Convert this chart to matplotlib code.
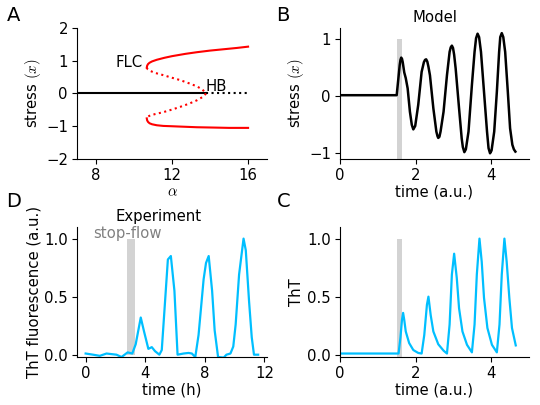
import matplotlib
matplotlib.use("Agg")
import matplotlib.pyplot as plt

plt.rcParams['font.family'] = ['DejaVu Sans']
plt.rcParams['mathtext.fontset'] = 'cm'
plt.rcParams['font.size'] = 10.7

# ---------------- Panel A: bifurcation diagram ----------------
alpha_ss_stable = [7.0, 13.79]
x_ss_stable = [0.0, 0.0]
alpha_ss_unstable = [13.79, 16.0]
x_ss_unstable = [0.0, 0.0]

alpha_up_stable = [10.67, 10.69, 10.74, 10.82, 10.95, 11.2, 11.6, 12.0, 12.7, 13.3, 14.0, 14.7, 15.4, 16.0]
x_up_stable = [0.79, 0.85, 0.90, 0.94, 0.98, 1.03, 1.09, 1.14, 1.21, 1.26, 1.31, 1.35, 1.39, 1.43]
alpha_up_unstable = [10.67, 10.72, 10.85, 11.1, 11.54, 12.0, 12.42, 12.9, 13.3, 13.6, 13.79]
x_up_unstable = [0.79, 0.74, 0.69, 0.63, 0.56, 0.48, 0.41, 0.31, 0.22, 0.12, 0.0]
alpha_lo_unstable = [13.79, 13.6, 13.3, 12.9, 12.42, 12.0, 11.54, 11.1, 10.85, 10.72, 10.67]
x_lo_unstable = [0.0, -0.11, -0.21, -0.31, -0.41, -0.49, -0.57, -0.63, -0.67, -0.71, -0.76]
alpha_lo_stable = [10.67, 10.69, 10.74, 10.82, 10.95, 11.2, 11.54, 12.0, 12.42, 13.3, 14.18, 15.0, 16.0]
x_lo_stable = [-0.76, -0.82, -0.87, -0.91, -0.94, -0.97, -0.99, -1.00, -1.01, -1.03, -1.04, -1.05, -1.05]

# ---------------- Panel B: model stress ----------------
t_B = [0, 1.50, 1.55, 1.58, 1.60, 1.62, 1.64, 1.66, 1.70, 1.74, 1.79, 1.85, 1.90, 1.94, 1.99,
       2.07, 2.16, 2.22, 2.25, 2.28, 2.31, 2.34, 2.38, 2.47, 2.55, 2.58, 2.60, 2.63, 2.66,
       2.74, 2.83, 2.90, 2.93, 2.96, 2.99, 3.02, 3.06, 3.15, 3.22, 3.25, 3.29, 3.33, 3.40,
       3.49, 3.56, 3.60, 3.64, 3.68, 3.73, 3.81, 3.89, 3.93, 3.97, 4.01, 4.08, 4.15, 4.21,
       4.24, 4.28, 4.32, 4.37, 4.44, 4.50, 4.56, 4.60, 4.64]
x_B = [0.02, 0.02, 0.35, 0.55, 0.64, 0.68, 0.66, 0.60, 0.42, 0.32, 0.14, -0.27, -0.50, -0.58, -0.52,
       -0.15, 0.43, 0.60, 0.64, 0.65, 0.61, 0.52, 0.37, -0.21, -0.62, -0.70, -0.73, -0.71, -0.62,
       -0.27, 0.37, 0.78, 0.86, 0.89, 0.85, 0.73, 0.49, -0.21, -0.74, -0.89, -0.98, -0.93, -0.62,
       0.20, 0.78, 1.02, 1.10, 1.04, 0.78, 0.08, -0.62, -0.91, -1.00, -0.95, -0.62, 0.08, 0.78,
       1.04, 1.11, 1.04, 0.78, 0.08, -0.56, -0.85, -0.93, -0.97]

# ---------------- Panel C: model ThT ----------------
t_C = [0, 1.55, 1.60, 1.64, 1.67, 1.70, 1.74, 1.83, 1.94, 2.07, 2.16, 2.23, 2.30, 2.34,
       2.40, 2.47, 2.60, 2.74, 2.83, 2.90, 2.96, 3.02, 3.09, 3.15, 3.24, 3.36, 3.49,
       3.56, 3.62, 3.69, 3.75, 3.81, 3.90, 4.02, 4.15, 4.22, 4.28, 4.35, 4.41, 4.48,
       4.55, 4.65]
y_C = [0.01, 0.01, 0.15, 0.30, 0.36, 0.30, 0.20, 0.10, 0.04, 0.015, 0.01, 0.17, 0.43, 0.50,
       0.34, 0.20, 0.09, 0.035, 0.01, 0.26, 0.69, 0.87, 0.66, 0.40, 0.20, 0.085, 0.02,
       0.26, 0.69, 1.0, 0.80, 0.49, 0.23, 0.085, 0.02, 0.26, 0.69, 1.0, 0.80, 0.49,
       0.23, 0.08]

# ---------------- Panel D: experiment ----------------
t_D = [0, 0.5, 0.95, 1.40, 1.73, 2.07, 2.41, 2.82, 3.13, 3.36, 3.70, 3.92, 4.21, 4.44,
       4.66, 4.95, 5.11, 5.30, 5.52, 5.72, 5.96, 6.17, 6.57, 6.91, 7.13, 7.36, 7.58,
       7.92, 8.08, 8.26, 8.49, 8.66, 8.89, 9.27, 9.45, 9.72, 9.91, 10.07, 10.30, 10.60,
       10.75, 10.97, 11.15, 11.30, 11.58]
y_D = [0.01, 0.0, -0.01, 0.01, 0.005, 0.0, -0.02, 0.02, 0.01, 0.09, 0.32, 0.20, 0.05, 0.065,
       0.03, 0.0, 0.04, 0.40, 0.82, 0.85, 0.55, 0.0, 0.01, 0.015, 0.01, -0.02, 0.17,
       0.65, 0.79, 0.85, 0.55, 0.21, -0.02, -0.025, 0.0, 0.01, 0.07, 0.26, 0.69, 1.0,
       0.90, 0.46, 0.15, 0.0, 0.0]

stopflow_model = [1.50, 1.65]
stopflow_exp = [2.77, 3.31]

blue = '#00bfff'
grey = '#d3d3d3'

fig = plt.figure(figsize=(5.4, 4.05), dpi=100)
axA = fig.add_axes([0.1426, 0.6074, 0.352, 0.3235])
axB = fig.add_axes([0.6296, 0.6074, 0.350, 0.3235])
axD = fig.add_axes([0.1426, 0.1185, 0.352, 0.321])
axC = fig.add_axes([0.6296, 0.1185, 0.350, 0.321])

for ax in (axA, axB, axC, axD):
    ax.spines['top'].set_visible(False)
    ax.spines['right'].set_visible(False)
    ax.tick_params(length=3.5, pad=3)

# A
axA.plot(alpha_ss_stable, x_ss_stable, color='black', lw=1.5)
axA.plot(alpha_ss_unstable, x_ss_unstable, color='black', lw=1.5, ls=':')
axA.plot(alpha_up_stable, x_up_stable, color='red', lw=1.5)
axA.plot(alpha_lo_stable, x_lo_stable, color='red', lw=1.5)
axA.plot(alpha_up_unstable, x_up_unstable, color='red', lw=1.5, ls=':')
axA.plot(alpha_lo_unstable, x_lo_unstable, color='red', lw=1.5, ls=':')
axA.set_xlim(7, 17)
axA.set_ylim(-2, 2)
axA.set_xticks([8, 12, 16])
axA.set_yticks([-2, -1, 0, 1, 2])
axA.set_xlabel(r'$\alpha$', labelpad=1)
axA.set_ylabel(r'stress $(x)$', labelpad=2)
axA.text(9.72, 0.95, 'FLC', ha='center', va='center')
axA.text(14.33, 0.2, 'HB', ha='center', va='center')

# B
axB.fill_between(stopflow_model, -1.1, 1.0, color=grey, lw=0)
axB.plot(t_B, x_B, color='black', lw=1.8)
axB.set_xlim(0, 5)
axB.set_ylim(-1.1, 1.2)
axB.set_xticks([0, 2, 4])
axB.set_yticks([-1, 0, 1])
axB.set_xlabel('time (a.u.)', labelpad=1)
axB.set_ylabel(r'stress $(x)$', labelpad=2)
axB.set_title('Model', fontsize=10.7, pad=4)

# C
axC.fill_between(stopflow_model, -0.02, 1.0, color=grey, lw=0)
axC.plot(t_C, y_C, color=blue, lw=1.6)
axC.set_xlim(0, 5)
axC.set_ylim(-0.02, 1.1)
axC.set_xticks([0, 2, 4])
axC.set_yticks([0.0, 0.5, 1.0])
axC.set_xlabel('time (a.u.)', labelpad=1)
axC.set_ylabel('ThT', labelpad=2)

# D
axD.fill_between(stopflow_exp, 0.0, 1.0, color=grey, lw=0)
axD.plot(t_D, y_D, color=blue, lw=1.6)
axD.set_xlim(-0.58, 12.18)
axD.set_ylim(-0.02, 1.1)
axD.set_xticks([0, 4, 8, 12])
axD.set_yticks([0.0, 0.5, 1.0])
axD.set_xlabel('time (h)', labelpad=1)
axD.set_ylabel('ThT fluorescence (a.u.)', labelpad=2)
axD.text(0.429, 1.08, 'Experiment', transform=axD.transAxes, ha='center', va='center')
axD.text(2.82, 1.04, 'stop-flow', color='gray', ha='center', va='center')

# panel letters
fig.text(0.012, 0.985, 'A', fontsize=14, va='top')
fig.text(0.512, 0.985, 'B', fontsize=14, va='top')
fig.text(0.012, 0.525, 'D', fontsize=14, va='top')
fig.text(0.512, 0.525, 'C', fontsize=14, va='top')

fig.savefig('out.png', dpi=100)
